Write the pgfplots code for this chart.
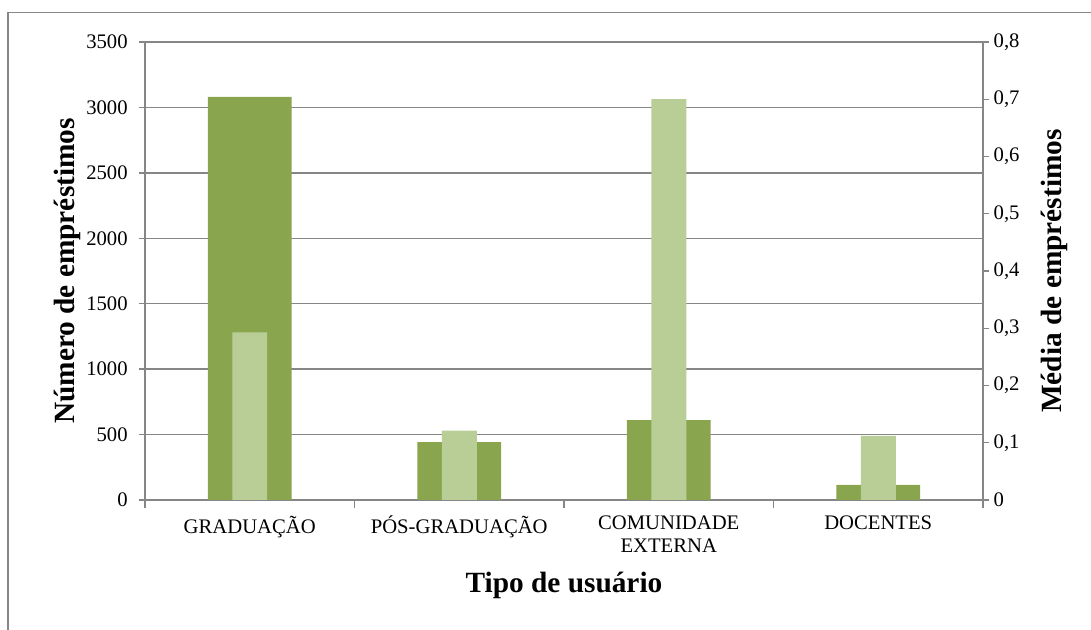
\documentclass[border=0pt]{standalone}
\usepackage{fontspec}
\setmainfont{Liberation Serif}
\usepackage{pgfplots}
\pgfplotsset{compat=1.18}
\definecolor{escuro}{RGB}{137,165,78}
\definecolor{claro}{RGB}{185,206,151}
\definecolor{cinza}{RGB}{134,134,134}

\begin{document}
\begin{tikzpicture}
\useasboundingbox (0,0) rectangle (818.25pt,472.5pt);
\draw[cinza, line width=1pt] (6pt,0) -- (6pt,463pt) -- (818.25pt,463pt);
\pgfplotsset{
  base/.style={
    at={(108.75pt,97.5pt)}, anchor=south west,
    scale only axis, width=628.5pt, height=343.5pt,
    xmin=-0.5, xmax=3.5, ymin=0,
    tick label style={font=\fontsize{15.5}{17}\selectfont},
    label style={font=\fontsize{22}{24}\selectfont\bfseries},
    /pgf/number format/assume math mode=true,
    /pgf/number format/1000 sep={},
    yticklabel={\pgfmathprintnumber{\tick}},
    axis line style={cinza, line width=1pt},
    tick style={cinza, line width=1pt},
    tick align=outside, major tick length=4.5pt,
    ybar, bar shift=0pt,
  }
}
% numero de emprestimos (eixo esquerdo)
\begin{axis}[base,
  ymax=3500, ytick={0,500,1000,1500,2000,2500,3000,3500},
  axis y line*=left, axis x line*=bottom,
  ymajorgrids, grid style={cinza, line width=1pt},
  yticklabel style={xshift=-5pt},
  xtick={0,1,2,3},
  xticklabels={GRADUAÇÃO,PÓS-GRADUAÇÃO,{COMUNIDADE\\EXTERNA},DOCENTES},
  xticklabel style={align=center, yshift=-4pt},
  x tick style={draw=none},
  extra x ticks={-0.5,0.5,1.5,2.5,3.5}, extra x tick labels={},
  extra x tick style={grid=none, major tick length=6pt, x tick style={draw=cinza}},
  bar width=0.4,
  xlabel={Tipo de usuário},
  ylabel={Número de empréstimos},
  xlabel style={at={(axis description cs:0.5,-0.186)}, anchor=center},
  ylabel style={at={(axis description cs:-0.093,0.5)}, anchor=center},
]
\addplot[fill=escuro, draw=none] coordinates {(0,3080) (1,442) (2,611) (3,115)};
\end{axis}
% media de emprestimos (eixo direito)
\begin{axis}[base,
  ymax=0.8, ytick={0,0.1,0.2,0.3,0.4,0.5,0.6,0.7,0.8},
  axis y line*=right, axis x line=none,
  yticklabel style={/pgf/number format/.cd, fixed, use comma, precision=1},
  bar width=0.167,
  ylabel={Média de empréstimos},
  ylabel style={at={(axis description cs:1.085,0.5)}, anchor=center},
]
\addplot[fill=claro, draw=none] coordinates {(0,0.293) (1,0.121) (2,0.700) (3,0.112)};
\end{axis}
\end{tikzpicture}
\end{document}
